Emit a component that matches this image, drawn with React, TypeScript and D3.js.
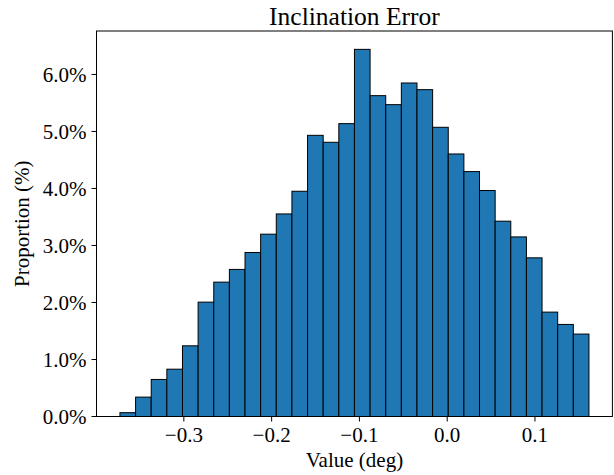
import React from "react";
import * as d3 from "d3";

const binStart = -0.3728;
const binWidth = 0.01781;
const proportions = [
  0.067, 0.34, 0.65, 0.83, 1.24, 2.006, 2.357, 2.58, 2.877, 3.198,
  3.553, 3.951, 4.932, 4.81, 5.137, 6.44, 5.628, 5.47, 5.85, 5.733,
  5.073, 4.605, 4.296, 3.964, 3.426, 3.15, 2.783, 1.831, 1.615, 1.446,
];
const xTicks = [-0.3, -0.2, -0.1, 0.0, 0.1];
const yTicks = [0, 1, 2, 3, 4, 5, 6];
const title = "Inclination Error";
const xLabel = "Value (deg)";
const yLabel = "Proportion (%)";

export default function App() {
  const W = 614, H = 475;
  const left = 96.5, right = 612.4, top = 31, bottom = 416.5;
  const n = proportions.length;
  const x0 = binStart, x1 = binStart + n * binWidth;
  const pad = (x1 - x0) * 0.05;
  const x = d3.scaleLinear().domain([x0 - pad, x1 + pad]).range([left, right]);
  const yMax = d3.max(proportions)! * 1.05;
  const y = d3.scaleLinear().domain([0, yMax]).range([bottom, top]);
  const font = "'Liberation Serif', 'Times New Roman', serif";
  const fmtX = (v: number) => (v < 0 ? "\u2212" : "") + Math.abs(v).toFixed(1);
  return (
    <svg width={W} height={H} style={{ position: "absolute", left: 0, top: 0, background: "#fff" }}>
      {proportions.map((p, i) => {
        const a = x(binStart + i * binWidth);
        const b = x(binStart + (i + 1) * binWidth);
        return (
          <rect key={i} x={a} y={y(p)} width={b - a} height={y(0) - y(p)}
            fill="#1f77b4" stroke="#000" strokeWidth={1} />
        );
      })}
      <rect x={left} y={top} width={right - left} height={bottom - top} fill="none" stroke="#000" strokeWidth={1} />
      {xTicks.map((t) => (
        <g key={t}>
          <line x1={x(t)} x2={x(t)} y1={bottom} y2={bottom + 5} stroke="#000" />
          <text x={x(t)} y={441.5} textAnchor="middle" fontFamily={font} fontSize={21}>{fmtX(t)}</text>
        </g>
      ))}
      {yTicks.map((t) => (
        <g key={t}>
          <line x1={left - 5} x2={left} y1={y(t)} y2={y(t)} stroke="#000" />
          <text x={left - 10} y={y(t)} dy="0.35em" textAnchor="end" fontFamily={font} fontSize={21}>{t.toFixed(1) + "%"}</text>
        </g>
      ))}
      <text x={(left + right) / 2} y={25} textAnchor="middle" fontFamily={font} fontSize={25.5}>{title}</text>
      <text x={(left + right) / 2} y={466.5} textAnchor="middle" fontFamily={font} fontSize={21}>{xLabel}</text>
      <text transform={`translate(29,${(top + bottom) / 2}) rotate(-90)`} textAnchor="middle" fontFamily={font} fontSize={21}>{yLabel}</text>
    </svg>
  );
}
